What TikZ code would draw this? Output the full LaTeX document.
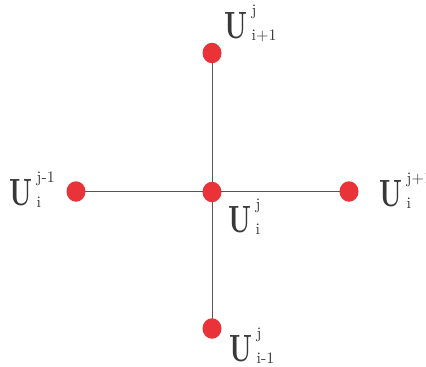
\documentclass[tikz,border=0pt]{standalone}
\usepackage{graphicx}
\usetikzlibrary{shapes.geometric}
\definecolor{dotred}{RGB}{234,51,56}
\definecolor{linegray}{RGB}{85,85,85}
\newcommand{\Ulab}[2]{\scalebox{2.6}[3.8]{\bfseries U}\kern4.5pt\rlap{\raisebox{23pt}{\scalebox{1.6}{#1}}}\raisebox{-2pt}{\scalebox{1.6}{#2}}}
\tikzset{
  pt/.style={ellipse, fill=dotred, minimum width=19pt, minimum height=20.5pt, inner sep=0pt},
  conn/.style={draw=linegray, line width=0.9pt},
  lab/.style={anchor=base west, inner sep=0pt, text=black!78, font=\fontsize{10}{10}\selectfont}
}
\begin{document}
\begin{tikzpicture}[x=1pt,y=-1pt]
\useasboundingbox (0,0) rectangle (426,367);
\coordinate (ct) at (212,53);
\coordinate (cl) at (76,191.5);
\coordinate (cc) at (212,192);
\coordinate (cr) at (349,191.5);
\coordinate (cb) at (212,328.5);
\draw[conn] (ct) -- (cb);
\draw[conn] (cl) -- (cr);
\node[pt] (top) at (ct) {};
\node[pt] (left) at (cl) {};
\node[pt] (center) at (cc) {};
\node[pt] (right) at (cr) {};
\node[pt] (bottom) at (cb) {};
\node[lab] (ltop) at (224,38.5) {\Ulab{j}{i+1}};
\node[lab] (lleft) at (9,205.5) {\Ulab{j-1}{i}};
\node[lab] (lcenter) at (228,232) {\Ulab{j}{i}};
\node[lab] (lright) at (379,206) {\Ulab{j+1}{i}};
\node[lab] (lbottom) at (229,361) {\Ulab{j}{i-1}};
\end{tikzpicture}
\end{document}
